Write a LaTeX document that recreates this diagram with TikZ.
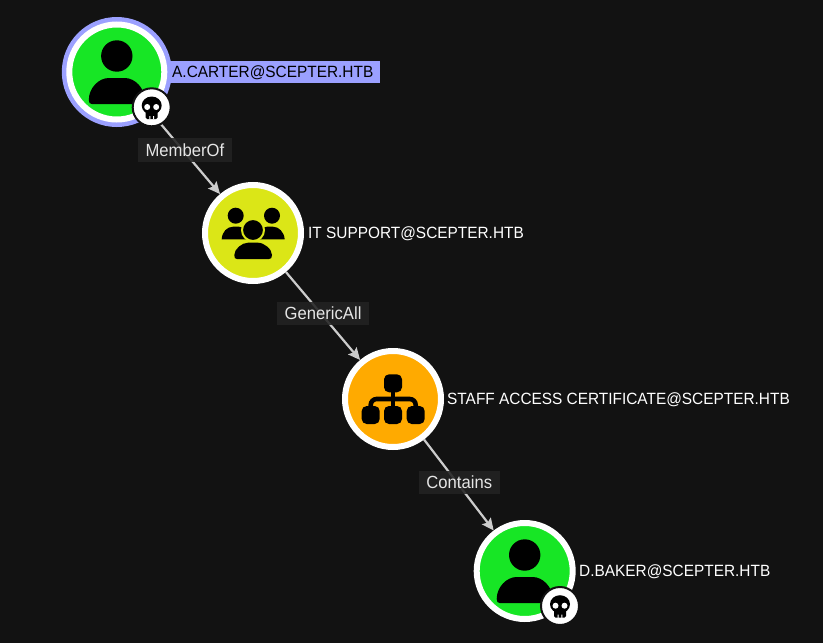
\documentclass[tikz,border=0pt]{standalone}
\usepackage{fontspec}
\setmainfont{Liberation Sans}
\newfontfamily\lblfont[FakeStretch=0.945]{Liberation Sans}
\usetikzlibrary{arrows.meta}
\definecolor{bg}{HTML}{121212}
\definecolor{usergreen}{HTML}{17E625}
\definecolor{groupyellow}{HTML}{DBE617}
\definecolor{ouorange}{HTML}{FFAA00}
\definecolor{selblue}{HTML}{9BA0FF}
\definecolor{edgegrey}{HTML}{CCCCCC}
\definecolor{lblbg}{HTML}{222222}
\definecolor{lbltext}{HTML}{E6E6E6}
\tikzset{
  x=1pt,y=-1pt,
  entity/.style={circle,draw=white,line width=6pt,minimum size=96pt,inner sep=0pt},
  rel/.style={draw=edgegrey,line width=2.2pt,-{Stealth[length=12pt,width=11pt,inset=2pt]}},
  rellabel/.style={fill=lblbg,fill opacity=.88,text opacity=1,text=lbltext,inner sep=0pt,minimum height=23.5pt,font=\lblfont\fontsize{17.6}{18}\selectfont},
  namelabel/.style={anchor=base west,inner sep=0pt,text=white,font=\lblfont\fontsize{16.3}{18}\selectfont},
  badge/.style={circle,fill=white,draw=bg,line width=2pt,minimum size=38pt,inner sep=0pt},
}
\newcommand{\usericon}[2]{%
  \begin{scope}[shift={(#1,#2)}]
    \fill[black] (0,-16) circle (15.7pt);
    \fill[black] (-28,28) .. controls (-28,16) and (-18,6) .. (-8,6) -- (8,6)
      .. controls (18,6) and (28,16) .. (28,28)
      .. controls (28,31) and (27,32) .. (25,32) -- (-25,32)
      .. controls (-27,32) and (-28,31) .. (-28,28) -- cycle;
  \end{scope}}
\newcommand{\skullicon}[2]{%
  \begin{scope}[shift={(#1,#2)}]
    \fill[black] (0,-2) ellipse[x radius=10pt,y radius=9pt];
    \fill[black,rounded corners=1.5pt] (-6,2) rectangle (6,11.5);
    \fill[white] (-4.5,-0.5) circle (3pt) (4.5,-0.5) circle (3pt);
    \fill[white] (-2.4,8.5) rectangle (-1.4,11.6) (1.4,8.5) rectangle (2.4,11.6);
  \end{scope}}
\begin{document}
\begin{tikzpicture}
\useasboundingbox (0,0) rectangle (823,643);
\fill[bg] (0,0) rectangle (823,643);

% name labels
\fill[selblue] (165,61) rectangle (380,83);
\node[namelabel,text=black] (la) at (172,77.8) {A.CARTER@SCEPTER.HTB};
\node[namelabel] (lb) at (308,238.8) {IT SUPPORT@SCEPTER.HTB};
\node[namelabel] (lc) at (447,404.8) {STAFF ACCESS CERTIFICATE@SCEPTER.HTB};
\node[namelabel] (ld) at (579,576.8) {D.BAKER@SCEPTER.HTB};

% entities
\node[circle,fill=selblue,minimum size=110pt,inner sep=0pt] (ahalo) at (116.8,72) {};
\node[entity,fill=usergreen,minimum size=95pt] (a) at (116.8,72) {};
\node[entity,fill=groupyellow] (b) at (253,233) {};
\node[entity,fill=ouorange] (c) at (393,399) {};
\node[entity,fill=usergreen] (d) at (524.7,571) {};

% connectors
\draw[rel] (a) -- (b);
\draw[rel] (b) -- (c);
\draw[rel] (c) -- (d);

% icons
\usericon{116.8}{72}
\usericon{524.7}{571}

% group icon
\begin{scope}[shift={(253,233)}]
  \fill[black] (-17.3,-17.3) circle (8pt) (19,-17.3) circle (8pt);
  \fill[black] (-31.3,6.3) .. controls (-31,-1) and (-26,-6.3) .. (-20,-6.3)
     -- (-14,-6.3) .. controls (-8,-6.3) and (-4,0) .. (-4,6.3) -- cycle;
  \fill[black] (31.7,6.3) .. controls (31,-1) and (26,-6.3) .. (20,-6.3)
     -- (14,-6.3) .. controls (8,-6.3) and (4,0) .. (4,6.3) -- cycle;
  \fill[black,draw=groupyellow,line width=2pt] (0,-3) circle (11pt);
  \fill[black] (-18.7,22)
     .. controls (-18.7,16) and (-11,9.7) .. (-5,9.7) -- (5,9.7)
     .. controls (11,9.7) and (19,16) .. (19,22) .. controls (19,25) and (18,26) .. (16,26)
     -- (-16,26) .. controls (-18,26) and (-18.7,25) .. (-18.7,22) -- cycle;
\end{scope}

% organisation icon
\begin{scope}[shift={(393,399)}]
  \draw[black,line width=4.6pt,rounded corners=6pt] (-22.3,8) -- (-22.3,0) -- (22.7,0) -- (22.7,8);
  \draw[black,line width=4.6pt] (0,-8) -- (0,8);
  \fill[black,rounded corners=5pt] (-9,-24.7) rectangle (9,-6.7);
  \fill[black,rounded corners=5pt] (-31.3,7) rectangle (-13.3,25);
  \fill[black,rounded corners=5pt] (-9,7) rectangle (9,25);
  \fill[black,rounded corners=5pt] (13.7,7) rectangle (31.7,25);
\end{scope}

% badges
\node[badge] (ba) at (151.7,107.3) {};
\node[badge] (bd) at (560,606) {};
\skullicon{151.7}{107.5}
\skullicon{560}{606.2}

% edge labels
\node[rellabel,minimum width=94.5pt] (e1) at (184.9,150.2) {MemberOf};
\node[rellabel,minimum width=92.5pt] (e2) at (323.1,313.7) {GenericAll};
\node[rellabel,minimum width=81.5pt] (e3) at (459.3,482.7) {Contains};
\end{tikzpicture}
\end{document}
